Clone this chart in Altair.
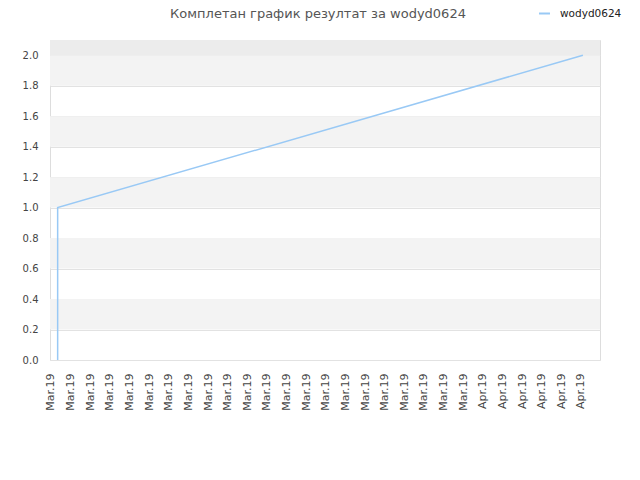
import altair as alt
import pandas as pd

# --- data ---
series_name = "wodyd0624"
x_pos = [0.34, 0.34, 27.1]
y_val = [0.0, 1.0, 2.0]
order_idx = [0, 1, 2]

tick_labels = ["Mar.19"] * 22 + ["Apr.19"] * 6
tick_values = list(range(len(tick_labels)))

band_lo = [0.2, 0.6, 1.0, 1.4, 1.8, 2.0]
band_hi = [0.4, 0.8, 1.2, 1.6, 2.0, 2.1]
band_col = ["#f3f3f3", "#f3f3f3", "#f3f3f3", "#f3f3f3", "#f3f3f3", "#ececec"]

y_ticks = [0.0, 0.2, 0.4, 0.6, 0.8, 1.0, 1.2, 1.4, 1.6, 1.8, 2.0]

line_df = pd.DataFrame({"x": x_pos, "y": y_val, "o": order_idx, "s": [series_name] * 3})
band_df = pd.DataFrame({"lo": band_lo, "hi": band_hi, "c": band_col})

label_arr = "[" + ",".join("'" + t + "'" for t in tick_labels) + "]"

FONT = "DejaVu Sans"
xscale = alt.Scale(domain=[-0.05, 27.97], nice=False, zero=False)
yscale = alt.Scale(domain=[0, 2.1], nice=False)
yaxis = alt.Axis(values=y_ticks, format=".1f", title=None, grid=True,
                 gridColor="#e2e2e2", domain=False, ticks=False,
                 labelFont=FONT, labelFontSize=10, labelColor="#444444",
                 labelPadding=12, labelOverlap=False)

bands = alt.Chart(band_df).mark_rect().encode(
    x=alt.value(0),
    x2=alt.value(550),
    y=alt.Y("lo:Q", scale=yscale, axis=yaxis),
    y2="hi:Q",
    color=alt.Color("c:N", scale=None),
)

line = alt.Chart(line_df).mark_line(strokeWidth=1.5).encode(
    x=alt.X("x:Q", scale=xscale,
            axis=alt.Axis(values=tick_values, labelExpr=label_arr + "[datum.value]",
                          labelAngle=270, title=None, grid=False, domain=False,
                          ticks=False, labelFont=FONT, labelFontSize=11,
                          labelColor="#444444", labelPadding=13, labelOverlap=False)),
    y=alt.Y("y:Q", scale=yscale, axis=yaxis),
    order="o:Q",
    color=alt.Color("s:N", scale=alt.Scale(range=["#99c9f5"]),
                    legend=alt.Legend(title=None, orient="none", legendX=488, legendY=-33,
                                      symbolType="stroke", symbolStrokeWidth=2,
                                      symbolSize=120, labelOffset=9, labelFont=FONT,
                                      labelFontSize=10.5, labelColor="#222222")),
)

chart = alt.layer(bands, line).properties(
    width=550,
    height=320,
    autosize=alt.AutoSizeParams(type="none"),
    padding={"left": 42, "top": 32, "right": 30, "bottom": 80},
    title=alt.TitleParams("Комплетан график резултат за wodyd0624", font=FONT,
                          fontSize=13, fontWeight="normal", color="#555555",
                          anchor="middle", frame="group", offset=-14, dx=-7),
).configure_view(stroke="#dddddd", strokeWidth=1)

chart.save("out.html", embed_options={"renderer": "svg", "actions": False})
